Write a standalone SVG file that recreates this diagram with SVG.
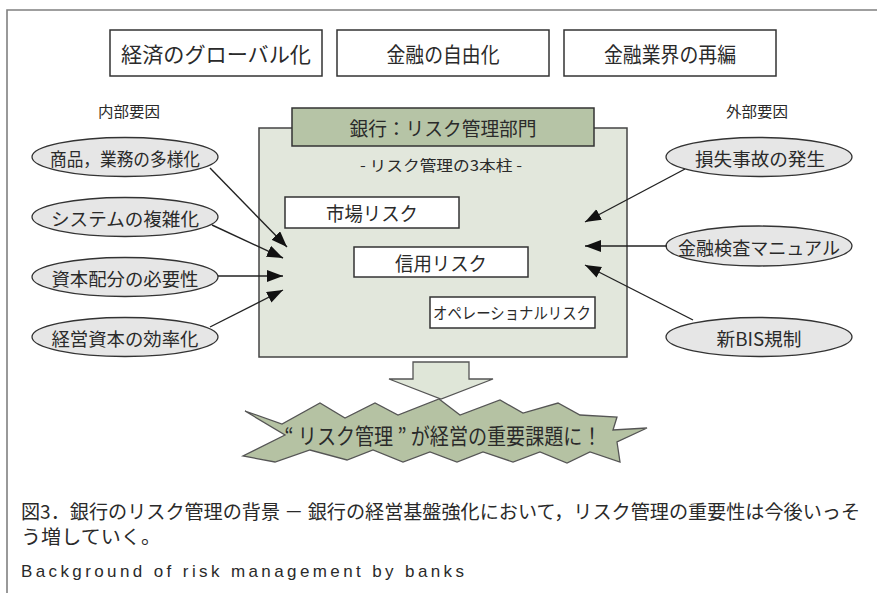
<svg xmlns="http://www.w3.org/2000/svg" width="877" height="593" viewBox="0 0 877 593">
<defs>
<style>
.jp{font-family:"Noto Sans CJK JP","Noto Sans CJK SC",sans-serif;fill:#2a2a2a;text-anchor:middle;dominant-baseline:central}
.box{fill:#fff;stroke:#333;stroke-width:1.5}
.ell{fill:#e6e6e6;stroke:#333;stroke-width:1.3}
.conn{stroke:#222;stroke-width:1.4;fill:none;marker-end:url(#ah)}
</style>
<marker id="ah" markerUnits="userSpaceOnUse" markerWidth="18" markerHeight="14" refX="16" refY="6" orient="auto">
<path d="M0,0 L16,6 L0,12 Z" fill="#111"/>
</marker>
</defs>
<rect width="877" height="593" fill="#fff"/>
<path d="M7,593 V10 H877" fill="none" stroke="#808080" stroke-width="1.6"/>

<g id="top1"><rect class="box" x="110" y="30" width="212" height="46"/><text class="jp" x="216" y="53" font-size="21" textLength="190" lengthAdjust="spacingAndGlyphs">経済のグローバル化</text></g>
<g id="top2"><rect class="box" x="337" y="30" width="212" height="46"/><text class="jp" x="443" y="53" font-size="21" textLength="113" lengthAdjust="spacingAndGlyphs">金融の自由化</text></g>
<g id="top3"><rect class="box" x="564" y="30" width="212" height="46"/><text class="jp" x="670" y="53" font-size="21" textLength="132" lengthAdjust="spacingAndGlyphs">金融業界の再編</text></g>

<text class="jp" x="129" y="110" font-size="15" textLength="62" lengthAdjust="spacingAndGlyphs">内部要因</text>
<text class="jp" x="757" y="110" font-size="15" textLength="62" lengthAdjust="spacingAndGlyphs">外部要因</text>

<g id="bank">
<rect x="259" y="128" width="368" height="229" fill="#e2e7dc" stroke="#444" stroke-width="1.5"/>
<rect x="292" y="108" width="302" height="38" fill="#b6c4a6" stroke="#333" stroke-width="1.5"/>
<text class="jp" x="443" y="127" font-size="19" textLength="187" lengthAdjust="spacingAndGlyphs">銀行：リスク管理部門</text>
<text class="jp" x="441" y="164" font-size="15" textLength="162" lengthAdjust="spacingAndGlyphs">- リスク管理の3本柱 -</text>
</g>
<g id="market"><rect class="box" x="285" y="197" width="174" height="31"/><text class="jp" x="372" y="212" font-size="19" textLength="92" lengthAdjust="spacingAndGlyphs">市場リスク</text></g>
<g id="credit"><rect class="box" x="354" y="247" width="174" height="30"/><text class="jp" x="441" y="262" font-size="19" textLength="92" lengthAdjust="spacingAndGlyphs">信用リスク</text></g>
<g id="oper"><rect class="box" x="430" y="297" width="165" height="31"/><text class="jp" x="512" y="312" font-size="16" textLength="158" lengthAdjust="spacingAndGlyphs">オペレーショナルリスク</text></g>

<g id="in1"><ellipse class="ell" cx="125" cy="157" rx="93" ry="19.5"/><text class="jp" x="125" y="158" font-size="18" textLength="150" lengthAdjust="spacingAndGlyphs">商品，業務の多様化</text></g>
<g id="in2"><ellipse class="ell" cx="125" cy="217" rx="93" ry="19.5"/><text class="jp" x="125" y="218" font-size="18" textLength="148" lengthAdjust="spacingAndGlyphs">システムの複雑化</text></g>
<g id="in3"><ellipse class="ell" cx="125" cy="277" rx="93" ry="19.5"/><text class="jp" x="125" y="278" font-size="18" textLength="147" lengthAdjust="spacingAndGlyphs">資本配分の必要性</text></g>
<g id="in4"><ellipse class="ell" cx="125" cy="337" rx="93" ry="19.5"/><text class="jp" x="125" y="338" font-size="18" textLength="147" lengthAdjust="spacingAndGlyphs">経営資本の効率化</text></g>

<g id="ex1"><ellipse class="ell" cx="759" cy="157" rx="93" ry="19.5"/><text class="jp" x="760" y="158" font-size="18" textLength="130" lengthAdjust="spacingAndGlyphs">損失事故の発生</text></g>
<g id="ex2"><ellipse class="ell" cx="759" cy="246" rx="93" ry="20"/><text class="jp" x="759" y="247" font-size="18" textLength="162" lengthAdjust="spacingAndGlyphs">金融検査マニュアル</text></g>
<g id="ex3"><ellipse class="ell" cx="759" cy="337" rx="93" ry="19.5"/><text class="jp" x="759" y="338" font-size="18" textLength="85" lengthAdjust="spacingAndGlyphs">新BIS規制</text></g>

<g id="connectors">
<line class="conn" x1="210" y1="168" x2="287" y2="247"/>
<line class="conn" x1="212" y1="225" x2="283" y2="258"/>
<line class="conn" x1="218" y1="276" x2="283" y2="276"/>
<line class="conn" x1="210" y1="327" x2="283" y2="290"/>
<line class="conn" x1="685" y1="169" x2="585" y2="222"/>
<line class="conn" x1="667" y1="246" x2="585" y2="246"/>
<line class="conn" x1="693" y1="320" x2="585" y2="265"/>
</g>

<g id="downarrow">
<path d="M413,362 H469 V379 H493 L441,399 L389,379 H413 Z" fill="#dfe6d8" stroke="#555" stroke-width="1.3"/>
</g>

<g id="burst">
<path d="M245,411 L282,424 L320,403 L345,418 L375,403 L398,415 L439,399 L460,415 L500,400 L523,413 L558,403 L580,415 L617,417 L613,430 L647,428 L617,442 L620,462 L590,452 L567,463 L540,452 L513,462 L483,452 L457,462 L430,452 L403,462 L373,450 L347,460 L310,450 L275,462 L243,456 L285,435 Z" fill="#b5c2a3" stroke="#555" stroke-width="1.3"/>
<text class="jp" x="443" y="434" font-size="22" textLength="317" lengthAdjust="spacingAndGlyphs">“ リスク管理 ” が経営の重要課題に！</text>
</g>

<g id="caption">
<text class="jp" x="21" y="510" font-size="19" style="text-anchor:start" textLength="839" lengthAdjust="spacingAndGlyphs">図3．銀行のリスク管理の背景 － 銀行の経営基盤強化において，リスク管理の重要性は今後いっそ</text>
<text class="jp" x="21" y="535" font-size="19" style="text-anchor:start" textLength="140" lengthAdjust="spacingAndGlyphs">う増していく。</text>
<text x="21" y="571" font-size="17" font-family="'Liberation Sans',Arial,sans-serif" fill="#2a2a2a" dominant-baseline="central" textLength="443" lengthAdjust="spacing">Background of risk management by banks</text>
</g>
</svg>
